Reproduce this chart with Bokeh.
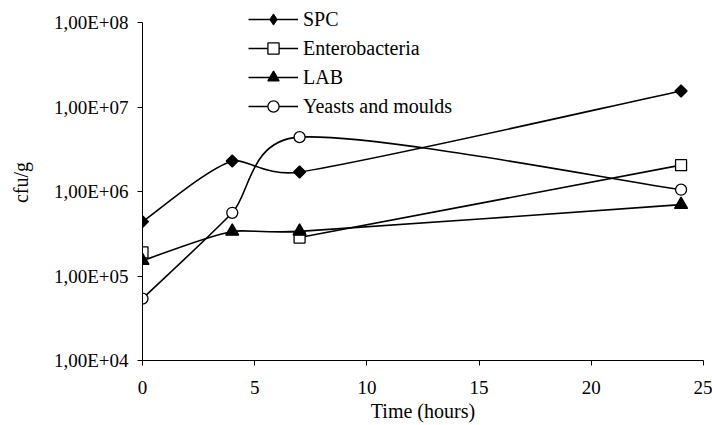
import math
from bokeh.plotting import figure
from bokeh.models import (Legend, LegendItem, FixedTicker, CustomJSTickFormatter,
                          ColumnDataSource, Range1d)
from bokeh.embed import file_html
from bokeh.resources import INLINE

# ---------------- data ----------------
time_h = [0, 4, 7, 24]
spc = [4.4e5, 2.3e6, 1.7e6, 1.55e7]
enterobacteria = [1.9e5, float("nan"), 2.85e5, 2.05e6]
lab = [1.52e5, 3.37e5, 3.37e5, 7.0e5]
yeasts_moulds = [5.4e4, 5.6e5, 4.4e6, 1.05e6]

series_names = ["SPC", "Enterobacteria", "LAB", "Yeasts and moulds"]
x_ticks = [0, 5, 10, 15, 20, 25]
y_ticks = [1e4, 1e5, 1e6, 1e7, 1e8]
y_tick_labels = ["1,00E+04", "1,00E+05", "1,00E+06", "1,00E+07", "1,00E+08"]
x_label = "Time (hours)"
y_label = "cfu/g"

# ---------------- layout ----------------
W, H = 712, 425
AXIS_TOP_PX = 22            # where the y axis (1e8) ends
BL, BR, BT, BB = 142, 9, 4, 65
FW = W - BL - BR
X0, X1 = 0, 25
Y0, Y1 = y_ticks[0], y_ticks[-1]
SX = FW / (X1 - X0)
SY = (H - BB - AXIS_TOP_PX) / (math.log10(Y1) - math.log10(Y0))
Y_TOP = 10 ** (math.log10(Y1) + (AXIS_TOP_PX - BT) / SY)
FONT = "Liberation Serif"

p = figure(width=W, height=H, output_backend="svg", toolbar_location=None,
           y_axis_type="log", x_range=Range1d(X0, X1), y_range=Range1d(Y0, Y_TOP),
           min_border_left=BL, min_border_right=BR, min_border_top=BT,
           min_border_bottom=BB)
p.outline_line_color = None
p.grid.visible = False
p.background_fill_color = "white"
p.border_fill_color = "white"

for ax in (p.xaxis[0], p.yaxis[0]):
    ax.axis_line_color = "black"
    ax.axis_line_width = 1
    ax.major_tick_line_color = "black"
    ax.major_tick_in = 0
    ax.major_tick_out = 5
    ax.minor_tick_line_color = None
    ax.major_label_text_font = FONT
    ax.major_label_text_font_size = "19px"
    ax.major_label_text_color = "black"
    ax.major_label_text_line_height = 1.0
    ax.axis_label_text_font = FONT
    ax.axis_label_text_font_size = "20px"
    ax.axis_label_text_font_style = "normal"
    ax.axis_label_text_color = "black"
    ax.axis_label_text_line_height = 1.0

p.yaxis.bounds = (Y0, Y1)
p.xaxis.ticker = FixedTicker(ticks=x_ticks)
p.yaxis.ticker = FixedTicker(ticks=y_ticks)
p.yaxis.formatter = CustomJSTickFormatter(
    args=dict(tvals=y_ticks, tlabels=y_tick_labels),
    code="""
    for (let i = 0; i < tvals.length; i++) {
        if (Math.abs(Math.log10(tvals[i]) - Math.log10(tick)) < 1e-6) return tlabels[i];
    }
    return "";
    """)
p.xaxis.axis_label = x_label
p.yaxis.axis_label = y_label
p.xaxis.major_label_standoff = 15
p.yaxis.major_label_standoff = 9
p.xaxis.axis_label_standoff = 3
p.yaxis.axis_label_standoff = 19


def smooth_segments(xs, ys):
    """Excel-like smoothed line: Bezier control points computed in screen space."""
    runs, cur = [], []
    for x, y in zip(xs, ys):
        if y is None or (isinstance(y, float) and math.isnan(y)):
            if cur:
                runs.append(cur)
            cur = []
        else:
            cur.append((x * SX, math.log10(y) * SY))
    if cur:
        runs.append(cur)
    seg = dict(x0=[], y0=[], x1=[], y1=[], cx0=[], cy0=[], cx1=[], cy1=[])
    d = lambda a, b: math.hypot(a[0] - b[0], a[1] - b[1])
    for pts in runs:
        n = len(pts)
        for i in range(n - 1):
            p1, p2 = pts[i], pts[i + 1]
            p0 = pts[i - 1] if i > 0 else p1
            p3 = pts[i + 2] if i + 2 < n else p2
            d12, d02, d13 = d(p1, p2), d(p0, p2), d(p1, p3)
            ok_a = d02 / 6 < d12 / 2
            ok_b = d13 / 6 < d12 / 2
            if ok_a and ok_b:
                f = g = 1 / 6
            elif not ok_a and not ok_b:
                f = d12 / (2 * d02)
                g = d12 / (2 * d13)
            elif not ok_a:
                f = g = d12 / (2 * d02)
            else:
                f = g = d12 / (2 * d13)
            c1 = (p1[0] + f * (p2[0] - p0[0]), p1[1] + f * (p2[1] - p0[1]))
            c2 = (p2[0] - g * (p3[0] - p1[0]), p2[1] - g * (p3[1] - p1[1]))
            for key, pt in (("0", p1), ("1", p2)):
                seg["x" + key].append(pt[0] / SX)
                seg["y" + key].append(10 ** (pt[1] / SY))
            seg["cx0"].append(c1[0] / SX)
            seg["cy0"].append(10 ** (c1[1] / SY))
            seg["cx1"].append(c2[0] / SX)
            seg["cy1"].append(10 ** (c2[1] / SY))
    return seg


styles = [
    dict(marker="square", size=8.5, angle=math.pi / 4, fill_color="black", legend_marker="diamond"),
    dict(marker="square", size=11, angle=0, fill_color="white", legend_marker=None),
    dict(marker="triangle", size=13, angle=0, fill_color="black", legend_marker=None),
    dict(marker="circle", size=11, angle=0, fill_color="white", legend_marker=None),
]
all_series = [spc, enterobacteria, lab, yeasts_moulds]

items = []
for name, vals, st in zip(series_names, all_series, styles):
    seg = smooth_segments(time_h, vals)
    bz = p.bezier(x0="x0", y0="y0", x1="x1", y1="y1", cx0="cx0", cy0="cy0",
                  cx1="cx1", cy1="cy1", source=ColumnDataSource(seg),
                  line_color="black", line_width=1.6)
    leg_marker = None
    if st["legend_marker"]:
        # small diamond fully covered by the rotated square; gives the legend its diamond
        leg_marker = p.scatter(x=time_h, y=vals, marker=st["legend_marker"], size=5,
                               fill_color=st["fill_color"], line_color="black",
                               line_width=1.0)
    sc = p.scatter(x=time_h, y=vals, marker=st["marker"], size=st["size"],
                   angle=st["angle"], fill_color=st["fill_color"],
                   line_color="black", line_width=1.3)
    items.append(LegendItem(label=name, renderers=[bz, leg_marker or sc]))

legend = Legend(items=items, location=(106, 240), padding=0, margin=0,
                glyph_width=50, glyph_height=28, label_height=20, spacing=1,
                label_standoff=5, label_text_font=FONT,
                label_text_font_size="20px", label_text_color="black",
                background_fill_alpha=0, border_line_color=None)
p.add_layout(legend, "center")

open("out.html", "w").write(file_html(p, INLINE))
